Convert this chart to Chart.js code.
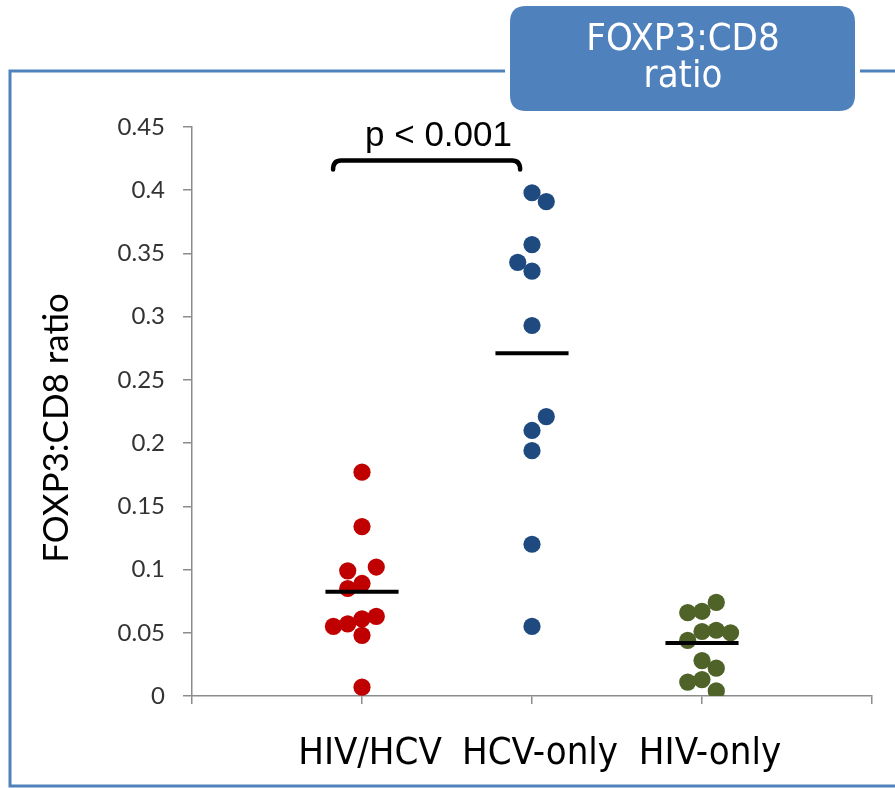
<!DOCTYPE html>
<html><head><meta charset="utf-8">
<script src="https://cdn.jsdelivr.net/npm/chart.js@4.4.0/dist/chart.umd.min.js"></script>
<style>html,body{margin:0;padding:0;background:#fff;}#wrap{width:895px;height:788px;position:relative;}</style>
</head><body><div id="wrap"><canvas id="c" width="895" height="788"></canvas></div>
<script>
// ---- data ----
const categories = ['HIV/HCV', 'HCV-only', 'HIV-only'];
const hivHcvValues  = [0.177, 0.134, 0.102, 0.099, 0.089, 0.085, 0.063, 0.061, 0.057, 0.055, 0.048, 0.007];
const hivHcvColumns = [0, 0, 1, -1, 0, -1, 1, 0, -1, -2, 0, 0];
const hcvOnlyValues  = [0.398, 0.391, 0.357, 0.343, 0.336, 0.293, 0.221, 0.210, 0.194, 0.120, 0.055];
const hcvOnlyColumns = [0, 1, 0, -1, 0, 0, 1, 0, 0, 0, 0];
const hivOnlyValues  = [0.074, 0.067, 0.066, 0.052, 0.051, 0.050, 0.044, 0.028, 0.022, 0.013, 0.011, 0.004];
const hivOnlyColumns = [1, 0, -1, 1, 0, 2, -1, 0, 1, 0, -1, 1];
const groupMeans = [0.0825, 0.271, 0.042];
const yTickLabels = ['0', '0.05', '0.1', '0.15', '0.2', '0.25', '0.3', '0.35', '0.4', '0.45'];
const yAxisTitle = 'FOXP3:CD8 ratio';
const boxTitleLines = ['FOXP3:CD8', 'ratio'];
const pValueText = 'p < 0.001';

// ---- styling / layout constants ----
const COLUMN_STEP = 0.084;
const MEAN_HALF = 0.215;
const groupColors = ['#C00000', '#1F4A80', '#4F6228'];
const FRAME = '#4F81BD';
const NARROW = '"Liberation Sans Narrow", "DejaVu Sans Condensed", "Arial Narrow", sans-serif';

function pts(values, cols, catIndex) {
  return values.map((v, i) => ({ x: catIndex + 1 + cols[i] * COLUMN_STEP, y: v }));
}
const seriesValues = [hivHcvValues, hcvOnlyValues, hivOnlyValues];
const seriesColumns = [hivHcvColumns, hcvOnlyColumns, hivOnlyColumns];

const datasets = [];
categories.forEach((name, i) => {
  datasets.push({
    type: 'scatter', label: name,
    data: pts(seriesValues[i], seriesColumns[i], i),
    backgroundColor: groupColors[i], borderColor: groupColors[i],
    pointRadius: 8.6, pointHoverRadius: 8.6, borderWidth: 0, order: 2
  });
});
categories.forEach((name, i) => {
  datasets.push({
    type: 'line', label: name + ' mean',
    data: [{ x: i + 1 - MEAN_HALF, y: groupMeans[i] }, { x: i + 1 + MEAN_HALF, y: groupMeans[i] }],
    borderColor: '#000', borderWidth: 4, pointRadius: 0, fill: false, order: 1
  });
});

function roundRect(ctx, x, y, w, h, r) {
  ctx.beginPath();
  ctx.moveTo(x + r, y);
  ctx.lineTo(x + w - r, y); ctx.quadraticCurveTo(x + w, y, x + w, y + r);
  ctx.lineTo(x + w, y + h - r); ctx.quadraticCurveTo(x + w, y + h, x + w - r, y + h);
  ctx.lineTo(x + r, y + h); ctx.quadraticCurveTo(x, y + h, x, y + h - r);
  ctx.lineTo(x, y + r); ctx.quadraticCurveTo(x, y, x + r, y);
  ctx.closePath();
}

const decor = {
  id: 'decor',
  beforeDraw(chart) {
    const ctx = chart.ctx;
    ctx.save();
    ctx.fillStyle = '#fff'; ctx.fillRect(0, 0, chart.width, chart.height);
    ctx.strokeStyle = FRAME; ctx.lineWidth = 3;
    ctx.beginPath();
    ctx.moveTo(505, 71); ctx.lineTo(10, 71); ctx.lineTo(10, 786); ctx.lineTo(895, 786);
    ctx.moveTo(860, 71); ctx.lineTo(895, 71);
    ctx.stroke();
    ctx.restore();
  },
  afterDraw(chart) {
    const ctx = chart.ctx;
    const xs = chart.scales.x, ys = chart.scales.y;
    ctx.save();
    // title box
    ctx.fillStyle = FRAME;
    roundRect(ctx, 510, 6, 345, 105, 16);
    ctx.fill();
    ctx.fillStyle = '#fff';
    ctx.font = '38px ' + NARROW;
    ctx.textAlign = 'center'; ctx.textBaseline = 'middle';
    ctx.fillText(boxTitleLines[0], 683, 40);
    ctx.fillText(boxTitleLines[1], 683, 77);
    // bracket
    const bx0 = xs.getPixelForValue(0.83), bx1 = xs.getPixelForValue(1.93);
    const by = ys.getPixelForValue(0.4235), bh = 9, r = 8;
    ctx.strokeStyle = '#000'; ctx.lineWidth = 4.5; ctx.lineCap = 'round';
    ctx.beginPath();
    ctx.moveTo(bx0, by + bh);
    ctx.quadraticCurveTo(bx0, by, bx0 + r, by);
    ctx.lineTo(bx1 - r, by);
    ctx.quadraticCurveTo(bx1, by, bx1, by + bh);
    ctx.stroke();
    // p value
    ctx.fillStyle = '#000';
    ctx.font = '35px "Liberation Sans", Arial, sans-serif';
    ctx.textAlign = 'center'; ctx.textBaseline = 'alphabetic';
    ctx.fillText(pValueText, xs.getPixelForValue(1.45), 146);
    // y axis title
    ctx.translate(57, 428);
    ctx.rotate(-Math.PI / 2);
    ctx.font = '35px Lato, "Open Sans", sans-serif';
    ctx.textBaseline = 'middle';
    ctx.fillText(yAxisTitle, 0, 0);
    ctx.restore();
  }
};

new Chart(document.getElementById('c'), {
  type: 'scatter',
  data: { datasets },
  options: {
    responsive: false, animation: false,
    layout: { padding: { top: 127, right: 23, bottom: 0, left: 0 } },
    plugins: { legend: { display: false }, tooltip: { enabled: false } },
    scales: {
      x: {
        type: 'linear', min: 0, max: 4,
        afterFit(s) { s.height = 92; s.paddingLeft = 0; s.paddingRight = 0; },
        afterBuildTicks(s) { s.ticks = [0, 1, 2, 3, 4].map(v => ({ value: v })); },
        grid: { drawOnChartArea: false, drawTicks: true, tickLength: 8, color: '#8c8c8c', lineWidth: 1.5 },
        border: { color: '#8c8c8c', width: 1.5 },
        ticks: {
          callback: (v) => (v >= 1 && v <= 3 ? categories[v - 1] : ''),
          font: { family: NARROW, size: 38 }, color: '#000',
          padding: 27, labelOffset: 8, maxRotation: 0, autoSkip: false
        }
      },
      y: {
        min: 0, max: 0.45,
        afterFit(s) { s.width = 192; },
        afterBuildTicks(s) { s.ticks = yTickLabels.map((t, i) => ({ value: i * 0.05 })); },
        grid: { drawOnChartArea: false, drawTicks: true, tickLength: 9, color: '#8c8c8c', lineWidth: 1.5 },
        border: { color: '#8c8c8c', width: 1.5 },
        ticks: {
          callback: (v, i) => yTickLabels[i],
          font: { family: 'Lato, "Open Sans", sans-serif', size: 24 }, color: '#333',
          padding: 18
        }
      }
    }
  },
  plugins: [decor]
});
</script></body></html>
